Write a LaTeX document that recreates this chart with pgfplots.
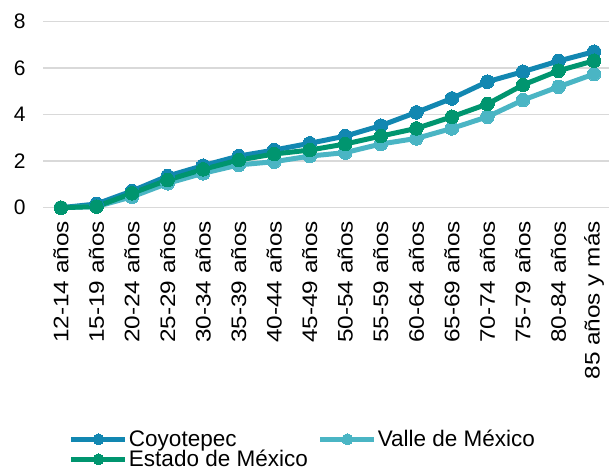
\documentclass[border=0pt]{standalone}
\usepackage{pgfplots}
\pgfplotsset{compat=1.18}
\usepackage{fontspec}
\setmainfont{Liberation Sans}
\definecolor{coy}{HTML}{1287B1}
\definecolor{valle}{HTML}{4AB5C4}
\definecolor{edo}{HTML}{00956F}
\definecolor{gridc}{HTML}{D9D9D9}
\begin{document}
\begin{tikzpicture}
\begin{axis}[
  name=ax,
  scale only axis,
  width=568.6pt, height=186pt,
  xmin=-0.5, xmax=15.5,
  ymin=0, ymax=8,
  ytick={0,2,4,6,8},
  xtick={0,...,15},
  xticklabels={12-14 años,15-19 años,20-24 años,25-29 años,30-34 años,35-39 años,40-44 años,45-49 años,50-54 años,55-59 años,60-64 años,65-69 años,70-74 años,75-79 años,80-84 años,85 años y más},
  axis line style={draw=none},
  major tick length=0pt,
  ymajorgrids,
  grid style={gridc, line width=1.5pt},
  /pgf/number format/assume math mode=true,
  tick label style={font=\fontsize{21}{25}\selectfont, black},
  yticklabel style={xshift=-14pt},
  xticklabel style={rotate=90, xscale=1.16, anchor=east, xshift=-8pt},
  clip=false,
  legend columns=2,
  legend cell align=left,
  legend style={draw=none, fill=none, anchor=north west, at={(0.045,-1.19)},
    font=\fontsize{22.5}{26}\selectfont, inner sep=0pt,
    nodes={inner sep=1pt},
    /tikz/every even column/.append style={column sep=9pt},
    row sep=0pt},
  legend image code/.code={\draw[#1, mark repeat=2, mark phase=2, mark size=5.5pt] plot coordinates {(0pt,0pt) (27pt,0pt) (54pt,0pt)};},
  every axis plot/.append style={line width=5pt, mark=*, mark size=6.8pt},
]
\addplot[coy, mark options={fill=coy, draw=coy, line width=0pt}] coordinates {
(0,0) (1,0.16) (2,0.72) (3,1.36) (4,1.81) (5,2.22) (6,2.48) (7,2.77) (8,3.08) (9,3.53) (10,4.10) (11,4.70) (12,5.42) (13,5.85) (14,6.31) (15,6.71)};
\addlegendentry{Coyotepec}
\addplot[valle, mark options={fill=valle, draw=valle, line width=0pt}] coordinates {
(0,0) (1,0.05) (2,0.47) (3,1.05) (4,1.48) (5,1.84) (6,1.98) (7,2.22) (8,2.37) (9,2.74) (10,2.98) (11,3.41) (12,3.91) (13,4.63) (14,5.20) (15,5.75)};
\addlegendentry{Valle de México}
\addplot[edo, mark options={fill=edo, draw=edo, line width=0pt}] coordinates {
(0,0) (1,0.05) (2,0.62) (3,1.19) (4,1.65) (5,2.05) (6,2.31) (7,2.48) (8,2.74) (9,3.08) (10,3.41) (11,3.91) (12,4.46) (13,5.28) (14,5.89) (15,6.32)};
\addlegendentry{Estado de México}
\end{axis}
\pgfresetboundingbox
\path ([shift={(-43.2pt,-264.3pt)}]ax.south west) rectangle ([shift={(565.8pt,207.7pt)}]ax.south west);
\end{tikzpicture}
\end{document}
